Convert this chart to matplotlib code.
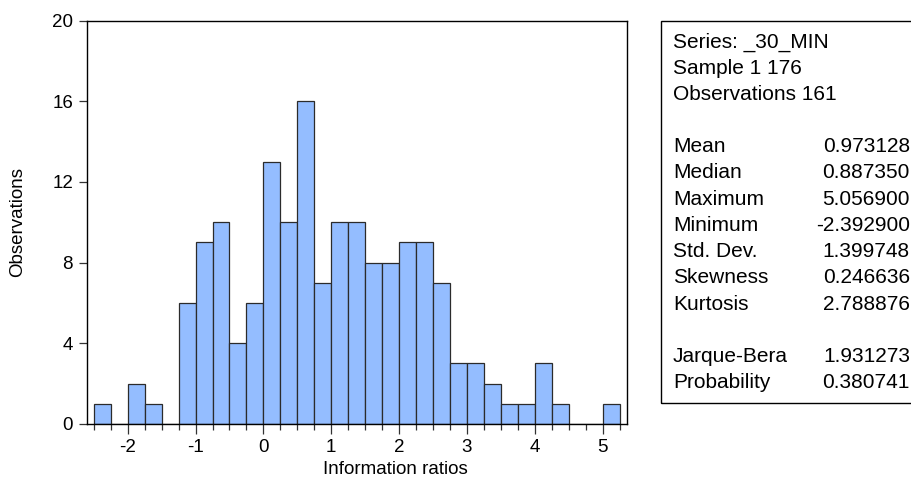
import numpy as np
import matplotlib
matplotlib.use("Agg")
import matplotlib.pyplot as plt
from matplotlib.patches import Rectangle
from matplotlib.ticker import FixedLocator

# Histogram of information ratios (bin width 0.25)
bin_left_edges = [-2.50, -2.25, -2.00, -1.75, -1.50, -1.25, -1.00, -0.75, -0.50, -0.25,
                  0.00, 0.25, 0.50, 0.75, 1.00, 1.25, 1.50, 1.75, 2.00, 2.25,
                  2.50, 2.75, 3.00, 3.25, 3.50, 3.75, 4.00, 4.25, 4.50, 4.75, 5.00]
counts = [1, 0, 2, 1, 0, 6, 9, 10, 4, 6,
          13, 10, 16, 7, 10, 10, 8, 8, 9, 9,
          7, 3, 3, 2, 1, 1, 3, 1, 0, 0, 1]
bin_width = 0.25

x_ticks = [-2, -1, 0, 1, 2, 3, 4, 5]
y_ticks = [0, 4, 8, 12, 16, 20]

# Descriptive statistics panel
header_lines = ["Series: _30_MIN", "Sample 1 176", "Observations 161"]
stat_names = ["Mean", "Median", "Maximum", "Minimum", "Std. Dev.", "Skewness", "Kurtosis"]
stat_values = ["0.973128", "0.887350", "5.056900", "-2.392900", "1.399748", "0.246636", "2.788876"]
test_names = ["Jarque-Bera", "Probability"]
test_values = ["1.931273", "0.380741"]

W, H = 912, 483
plt.rcParams["font.family"] = ["Liberation Sans", "DejaVu Sans"]
fig = plt.figure(figsize=(W / 100, H / 100), dpi=100)

ax_left, ax_right, ax_top, ax_bottom = 87, 627, 20.5, 424
ax = fig.add_axes([ax_left / W, 1 - ax_bottom / H, (ax_right - ax_left) / W, (ax_bottom - ax_top) / H])

ax.bar(bin_left_edges, counts, width=bin_width, align="edge",
       color="#94BDFF", edgecolor="#2b2b2b", linewidth=0.9, zorder=2)

ax.set_xlim(-2.6, 5.36)
ax.set_ylim(0, 20)
ax.xaxis.set_major_locator(FixedLocator(x_ticks))
minor_edges = [e for e in bin_left_edges + [bin_left_edges[-1] + bin_width] if e not in x_ticks]
ax.xaxis.set_minor_locator(FixedLocator(minor_edges))
ax.yaxis.set_major_locator(FixedLocator(y_ticks))
ax.set_xticklabels([str(t) for t in x_ticks])
ax.set_yticklabels([str(t) for t in y_ticks])

ax.tick_params(axis="x", which="major", direction="out", length=7, width=0.9, labelsize=13.5, pad=4, color="#333333")
ax.tick_params(axis="x", which="minor", direction="out", length=4, width=0.9, color="#333333")
ax.tick_params(axis="y", which="major", direction="out", length=6, width=0.9, labelsize=13.5, pad=4, color="#333333")

for s in ax.spines.values():
    s.set_linewidth(1.0)
    s.set_color("black")

ax.set_xlabel("Information ratios", fontsize=13.5)
ax.xaxis.set_label_coords((395 - ax_left) / (ax_right - ax_left), -(470 - ax_bottom) / (ax_bottom - ax_top))
ax.xaxis.label.set_va("center")
ax.set_ylabel("Observations", fontsize=13.5)
ax.yaxis.set_label_coords(-(ax_left - 18) / (ax_right - ax_left), 0.5)
ax.yaxis.label.set_va("center")

# Statistics box (runs off the right edge of the figure)
box_left, box_top, box_bottom = 660.7, 20.5, 402.7
box = Rectangle((box_left / W, 1 - box_bottom / H), (W + 20 - box_left) / W, (box_bottom - box_top) / H,
                transform=fig.transFigure, fill=False, edgecolor="black", linewidth=1.0, clip_on=False)
fig.patches.append(box)

line0, step = 42, 26.2
text_x, value_x = 673, 910
fs = 15

def put(row, left, right=None):
    y = 1 - (line0 + row * step) / H
    fig.text(text_x / W, y, left, fontsize=fs, ha="left", va="center")
    if right is not None:
        fig.text(value_x / W, y, right, fontsize=fs, ha="right", va="center")

for i, t in enumerate(header_lines):
    put(i, t)
for i, (n, v) in enumerate(zip(stat_names, stat_values)):
    put(4 + i, n, v)
for i, (n, v) in enumerate(zip(test_names, test_values)):
    put(12 + i, n, v)

fig.savefig("out.png", dpi=100, facecolor="white")
